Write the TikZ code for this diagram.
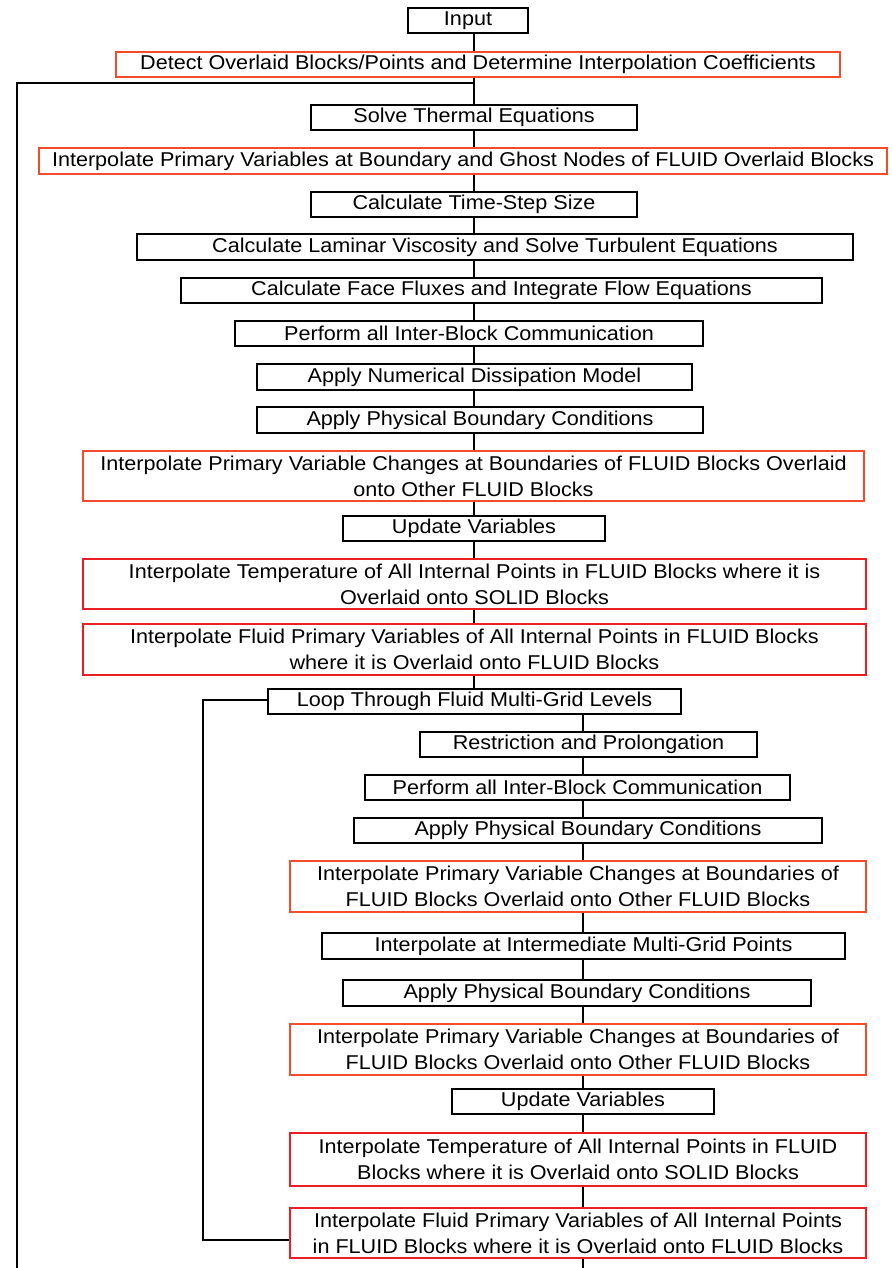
\documentclass[tikz,border=0pt]{standalone}
\usepackage{fontspec}
\setmainfont[FakeStretch=1.08]{Liberation Sans}
\definecolor{ored}{RGB}{245,75,45}
\definecolor{pred}{RGB}{235,30,35}
\begin{document}
\begin{tikzpicture}[x=1pt,y=-1pt,
  every node/.style={font=\fontsize{20}{26}\selectfont, inner sep=0pt, align=center, line width=1.3pt},
  bbox/.style={draw=black, minimum height=25pt},
  obox/.style={draw=ored, minimum height=25pt},
  rbox/.style={draw=pred, minimum height=50pt},
  link/.style={draw=black, line width=1.3pt}]
\useasboundingbox (0,0) rectangle (891,1268);
\coordinate (sp) at (474,0);
\coordinate (sq) at (583,0);
% main column
\node[bbox, minimum width=120] (in) at (468,20.5) {Input};
\node[obox, minimum width=724] (det) at (478,64.5) {Detect Overlaid Blocks/Points and Determine Interpolation Coefficients};
\node[bbox, minimum width=326] (sol) at (474,117.5) {Solve Thermal Equations};
\node[obox, minimum width=848, minimum height=26] (ipg) at (463,161) {Interpolate Primary Variables at Boundary and Ghost Nodes of FLUID Overlaid Blocks};
\node[bbox, minimum width=326] (ts) at (474,204.5) {Calculate Time-Step Size};
\node[bbox, minimum width=716, minimum height=26] (lam) at (495,247) {Calculate Laminar Viscosity and Solve Turbulent Equations};
\node[bbox, minimum width=641] (ff) at (501.5,290.5) {Calculate Face Fluxes and Integrate Flow Equations};
\node[bbox, minimum width=468] (ibc) at (469,333.5) {Perform all Inter-Block Communication};
\node[bbox, minimum width=435, minimum height=26] (nd) at (474.5,377) {Apply Numerical Dissipation Model};
\node[bbox, minimum width=446, minimum height=26] (pbc) at (480,420) {Apply Physical Boundary Conditions};
\node[obox, minimum width=781, minimum height=50] (ipc) at (473.5,476) {Interpolate Primary Variable Changes at Boundaries of FLUID Blocks Overlaid\\onto Other FLUID Blocks};
\node[bbox, minimum width=262] (upd) at (474,528.5) {Update Variables};
\node[rbox, minimum width=783] (tmp) at (474.5,584) {Interpolate Temperature of All Internal Points in FLUID Blocks where it is\\Overlaid onto SOLID Blocks};
\node[rbox, minimum width=783, minimum height=51] (flu) at (474.5,649.5) {Interpolate Fluid Primary Variables of All Internal Points in FLUID Blocks\\where it is Overlaid onto FLUID Blocks};
\node[bbox, minimum width=413] (loop) at (474.5,701.5) {Loop Through Fluid Multi-Grid Levels};
% inner column
\node[bbox, minimum width=337] (rp) at (588.5,744.5) {Restriction and Prolongation};
\node[bbox, minimum width=425] (ibc2) at (577.5,787.5) {Perform all Inter-Block Communication};
\node[bbox, minimum width=468] (pbc2) at (588,830.5) {Apply Physical Boundary Conditions};
\node[obox, minimum width=576, minimum height=51] (ipc2) at (578,886.5) {Interpolate Primary Variable Changes at Boundaries of\\FLUID Blocks Overlaid onto Other FLUID Blocks};
\node[bbox, minimum width=523, minimum height=26] (imp) at (583.5,946) {Interpolate at Intermediate Multi-Grid Points};
\node[bbox, minimum width=468, minimum height=26] (pbc3) at (577,993) {Apply Physical Boundary Conditions};
\node[obox, minimum width=576, minimum height=51] (ipc3) at (578,1049.5) {Interpolate Primary Variable Changes at Boundaries of\\FLUID Blocks Overlaid onto Other FLUID Blocks};
\node[bbox, minimum width=262] (upd2) at (583,1101.5) {Update Variables};
\node[rbox, minimum width=576, minimum height=53] (tmp2) at (578,1159.5) {Interpolate Temperature of All Internal Points in FLUID\\Blocks where it is Overlaid onto SOLID Blocks};
\node[rbox, minimum width=576] (flu2) at (578,1233) {Interpolate Fluid Primary Variables of All Internal Points\\in FLUID Blocks where it is Overlaid onto FLUID Blocks};
% main spine connectors
\foreach \a/\b in {in/det,det/sol,sol/ipg,ipg/ts,ts/lam,lam/ff,ff/ibc,ibc/nd,nd/pbc,pbc/ipc,ipc/upd,upd/tmp,tmp/flu,flu/loop}
  \draw[link] (\a.south -| sp) -- (\b.north -| sp);
\foreach \a/\b in {loop/rp,rp/ibc2,ibc2/pbc2,pbc2/ipc2,ipc2/imp,imp/pbc3,pbc3/ipc3,ipc3/upd2,upd2/tmp2,tmp2/flu2}
  \draw[link] (\a.south -| sq) -- (\b.north -| sq);
\coordinate (end) at (583,1268);
\draw[link] (flu2.south -| sq) -- (end);
% outer loop
\coordinate (oj) at (474,83);
\coordinate (ot) at (17,83);
\coordinate (ob) at (17,1268);
\draw[link] (oj) -- (ot) -- (ob);
% inner loop
\coordinate (il) at (203,700);
\draw[link] (loop.west |- il) -- (il) |- ([yshift=-7pt]flu2.west);
\end{tikzpicture}
\end{document}
